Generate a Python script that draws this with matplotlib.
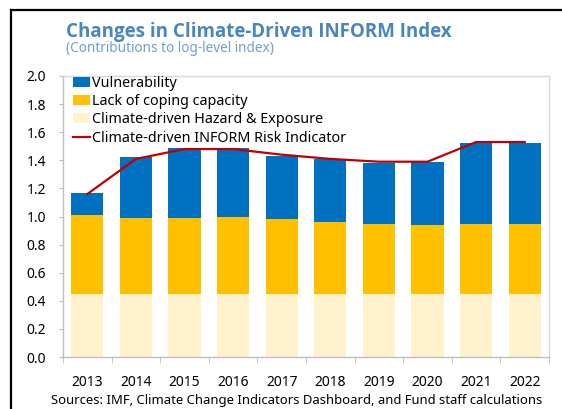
import matplotlib
matplotlib.use("Agg")
import matplotlib.pyplot as plt
from matplotlib.lines import Line2D
import numpy as np

plt.rcParams["font.family"] = ["Noto Sans", "DejaVu Sans"]

# Data
years = ["2013", "2014", "2015", "2016", "2017", "2018", "2019", "2020", "2021", "2022"]
hazard = [0.45, 0.45, 0.45, 0.45, 0.45, 0.45, 0.45, 0.45, 0.45, 0.45]
coping = [0.56, 0.54, 0.54, 0.55, 0.53, 0.51, 0.50, 0.49, 0.50, 0.50]
vulnerability = [0.16, 0.43, 0.50, 0.49, 0.45, 0.45, 0.43, 0.45, 0.57, 0.57]
risk_indicator = [1.16, 1.41, 1.48, 1.48, 1.44, 1.41, 1.39, 1.39, 1.53, 1.53]

c_vuln = "#0070C0"
c_coping = "#FFC000"
c_hazard = "#FFF2CC"
c_line = "#C00000"

fig = plt.figure(figsize=(5.62, 4.09), dpi=100)
ax = fig.add_axes([0.1121, 0.1271, 0.8648, 0.6871])

x = np.arange(len(years))
w = 0.66
hz = np.array(hazard)
cp = np.array(coping)
ax.bar(x, hazard, w, color=c_hazard, label="Climate-driven Hazard & Exposure")
ax.bar(x, coping, w, bottom=hz, color=c_coping, label="Lack of coping capacity")
ax.bar(x, vulnerability, w, bottom=hz + cp, color=c_vuln, label="Vulnerability")
ax.plot(x, risk_indicator, color=c_line, lw=1.6, label="Climate-driven INFORM Risk Indicator")

ax.set_xlim(-0.5, len(years) - 0.5)
ax.set_ylim(0, 2.0)
ax.set_yticks(np.arange(0, 2.01, 0.2))
ax.set_yticklabels([f"{v:.1f}" for v in np.arange(0, 2.01, 0.2)])
ax.set_xticks(x)
ax.set_xticklabels(years)
ax.set_xticks(np.arange(-0.5, len(years), 1.0), minor=True)
ax.tick_params(axis="x", which="major", length=0, pad=13, labelsize=10, colors="#000000")
ax.tick_params(axis="x", which="minor", length=4, color="#BFBFBF", direction="out")
ax.tick_params(axis="y", length=3, color="#BFBFBF", pad=9, labelsize=10)
for s in ax.spines.values():
    s.set_color("#D9D9D9")
    s.set_linewidth(1)
ax.spines["bottom"].set_color("#BFBFBF")
ax.spines["left"].set_color("#BFBFBF")

handles, labels = ax.get_legend_handles_labels()
order = [labels.index(l) for l in ["Vulnerability", "Lack of coping capacity",
                                   "Climate-driven Hazard & Exposure",
                                   "Climate-driven INFORM Risk Indicator"]]
ax.legend([handles[i] for i in order], [labels[i] for i in order],
          loc="upper left", bbox_to_anchor=(0.0, 1.035), frameon=False, fontsize=10.3,
          handlelength=1.2, handleheight=0.7, handletextpad=0.15,
          labelspacing=0.22, borderaxespad=0.3)

fig.text(0.117, 0.922, "Changes in Climate-Driven INFORM Index", fontsize=13.5,
         fontweight="bold", color="#4A86BE", va="center", family=["Open Sans", "DejaVu Sans"])
fig.text(0.117, 0.882, "(Contributions to log-level index)", fontsize=9.8,
         color="#6FA0D0", va="center")
fig.text(0.09, 0.022, "Sources: IMF, Climate Change Indicators Dashboard, and Fund staff calculations",
         fontsize=9.4, va="center")

# black frame edges visible at top and left
fig.add_artist(Line2D([0.02, 0.02], [0, 0.975], color="black", lw=1.6))
fig.add_artist(Line2D([0.02, 1.0], [0.975, 0.975], color="black", lw=1.6))

fig.savefig("out.png", dpi=100)
